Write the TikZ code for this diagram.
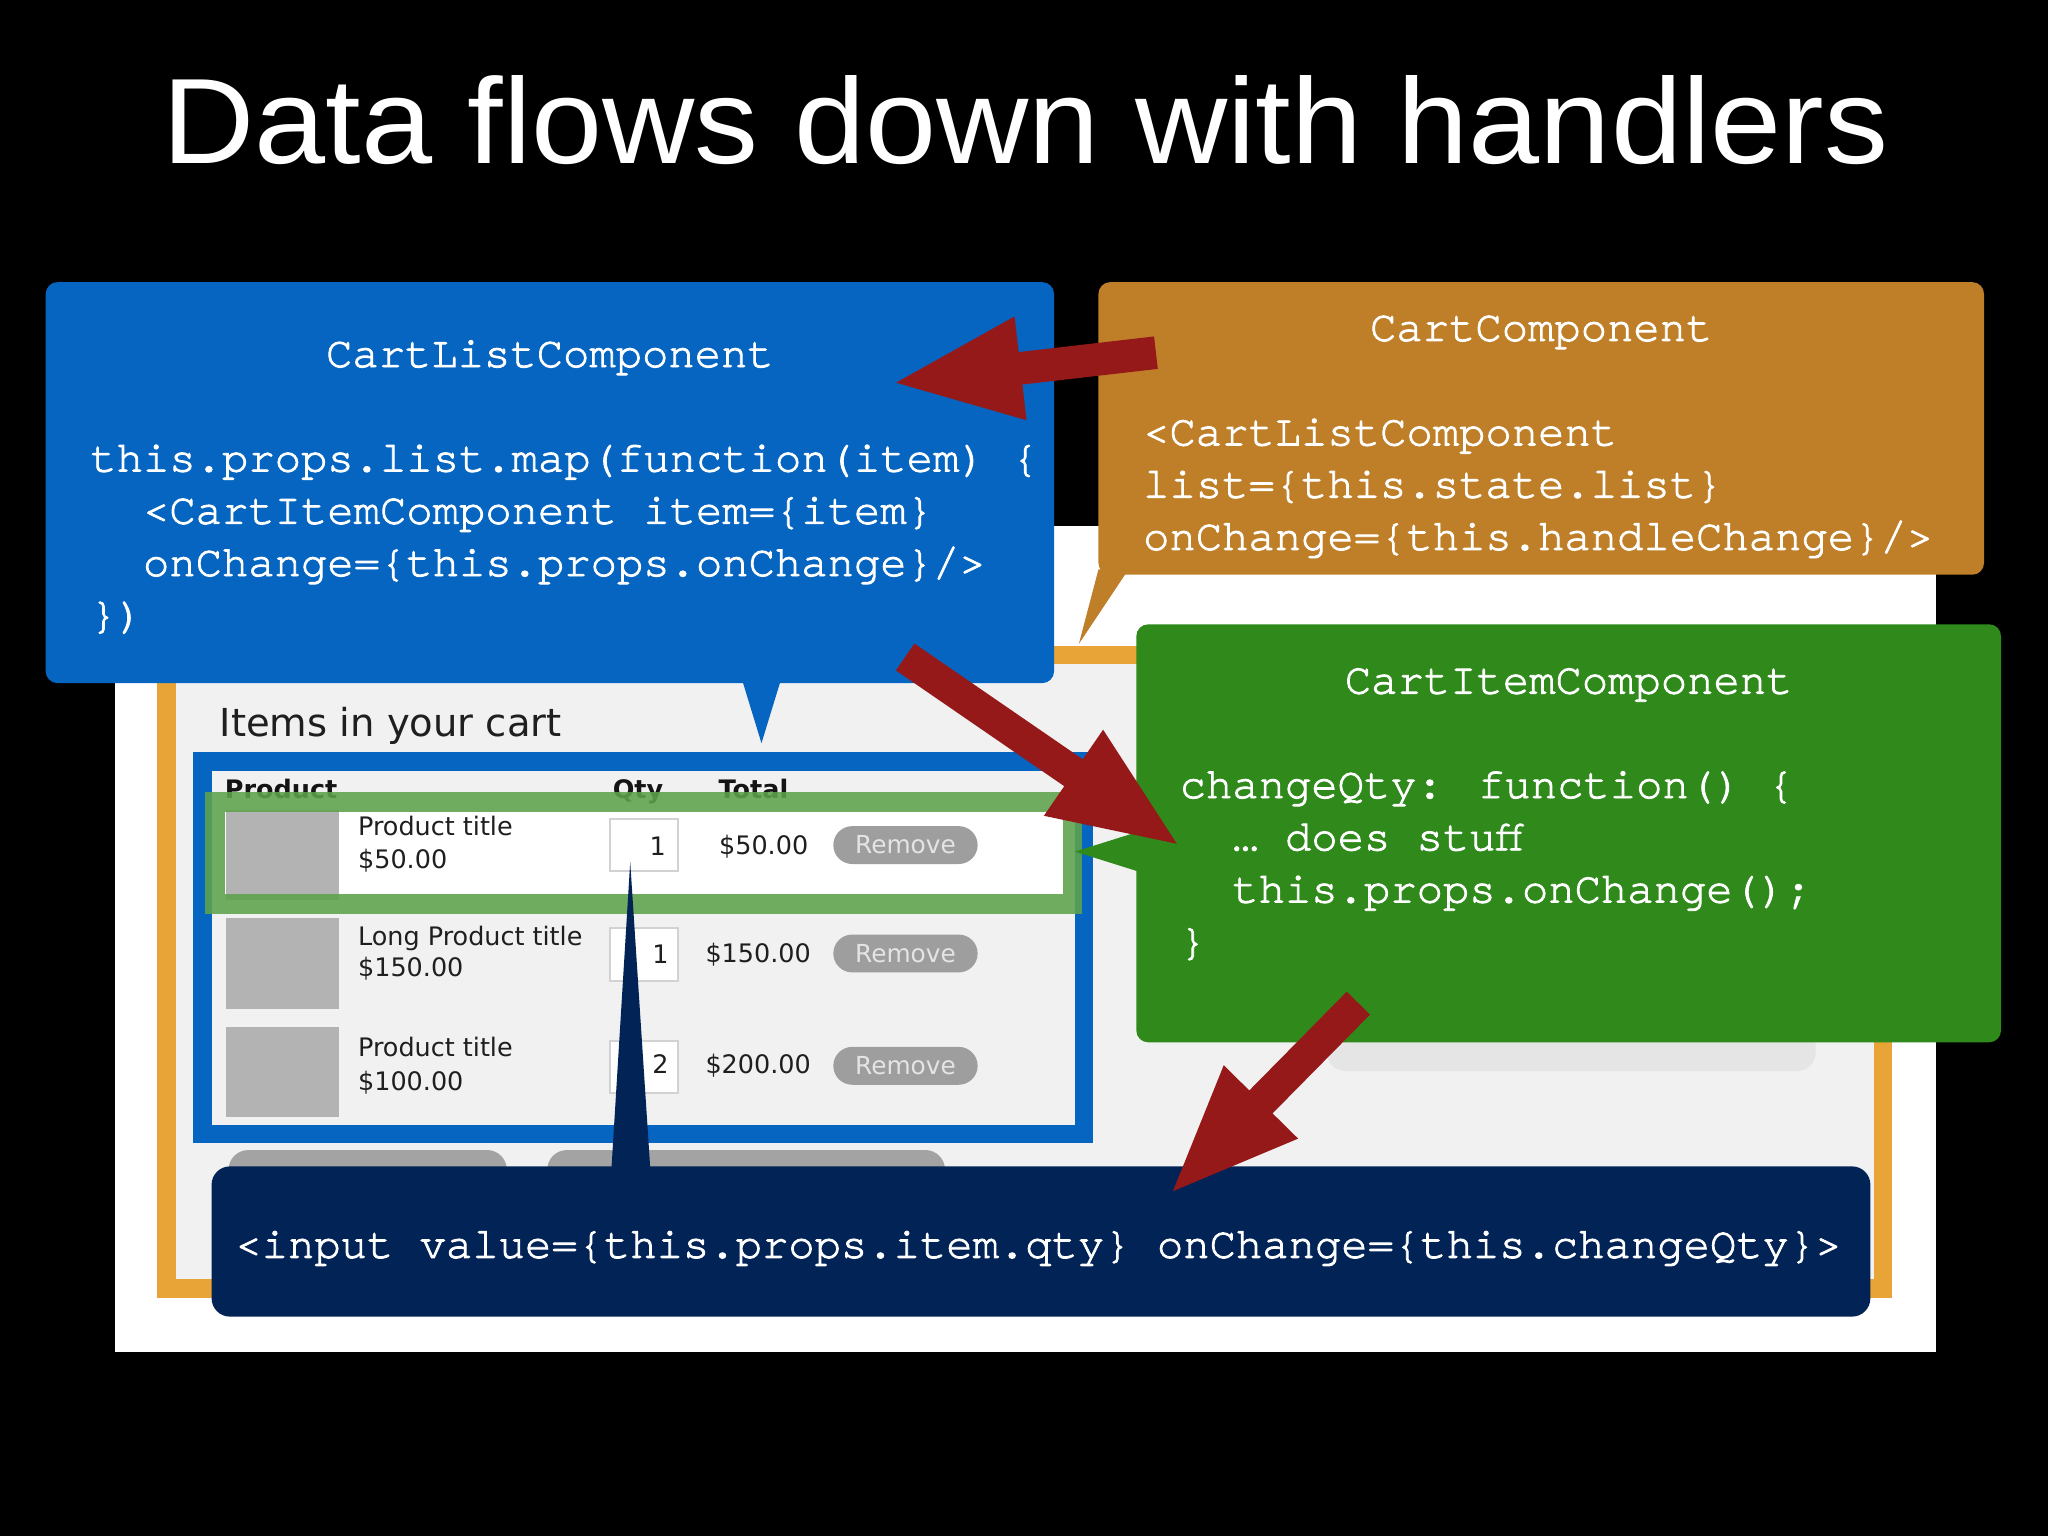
\documentclass[tikz,border=0pt]{standalone}
\usepackage{fontspec}
\usetikzlibrary{calc}
\newfontfamily\titlefont{Liberation Sans}
\newfontfamily\uifont{DejaVu Sans}
\newfontfamily\codefont{texgyrecursor-regular.otf}[FakeBold=2]

\definecolor{cblue}{HTML}{0565C0}
\definecolor{corange}{HTML}{BE7F28}
\definecolor{cgreen}{HTML}{2F8A1B}
\definecolor{cnavy}{HTML}{022356}
\definecolor{cred}{HTML}{951919}
\definecolor{cborder}{HTML}{E8A436}
\definecolor{cbg}{HTML}{F1F1F1}
\definecolor{cthumb}{HTML}{B3B3B3}
\definecolor{cpill}{HTML}{9E9E9E}
\definecolor{cpilltext}{HTML}{E4E4E4}
\definecolor{cframe}{HTML}{5EA34B}
\definecolor{cqty}{HTML}{D2D2D2}

\newcommand\drawredarrow[2]{%
  \path ($(#2)!96pt!(#1)$) coordinate (hb);
  \fill[cred] ($(#1)!12.5pt!90:(#2)$) -- ($(hb)!12.5pt!-90:(#1)$) -- ($(hb)!40pt!-90:(#1)$)
     -- (#2) -- ($(hb)!40pt!90:(#1)$) -- ($(hb)!12.5pt!90:(#1)$) -- ($(#1)!12.5pt!-90:(#2)$) -- cycle;
}

\tikzset{
  callout/.style={fill=#1, draw=none, rounded corners=9pt, inner sep=0pt},
  code/.style={font=\codefont\fontsize{33.6}{40}\selectfont, text=white, inner sep=0pt},
  codeline/.style={code, anchor=base west},
  codetitle/.style={code, anchor=base},
  ui/.style={font=\uifont\fontsize{19.5}{23}\selectfont, inner sep=0pt, anchor=base west, text=black!88},
  uihead/.style={font=\uifont\bfseries\fontsize{19.5}{23}\selectfont, inner sep=0pt, anchor=base west, text=black!92},
  uinum/.style={font=\uifont\fontsize{19.5}{23}\selectfont, inner sep=0pt, anchor=base east, text=black!88},
  thumb/.style={fill=cthumb, draw=none, inner sep=0pt, minimum width=86pt, minimum height=69pt},
  qtybox/.style={fill=white, draw=cqty, line width=1.5pt, inner sep=0pt, minimum width=52pt, minimum height=40pt},
  pill/.style={fill=cpill, draw=none, rounded corners=14.5pt, minimum width=110.5pt, minimum height=29pt, inner sep=0pt,
     font=\uifont\fontsize{19}{23}\selectfont, text=cpilltext},
}

\begin{document}
\begin{tikzpicture}[x=1pt,y=-1pt]
\useasboundingbox (0,0) rectangle (1568,1176);
\fill[black] (0,0) rectangle (1568,1176);

% title
\node[font=\titlefont\fontsize{93}{110}\selectfont, text=white, anchor=base, inner sep=0pt] (title) at (785,125)
  {\scalebox{1.052}[1]{Data flows down with handlers}};

% screenshot
\fill[white] (88,403) rectangle (1482,1035);
\draw[cborder, line width=14pt, fill=cbg] (127.5,501.5) rectangle (1441.5,986.5);
\node[font=\uifont\fontsize{29.5}{35}\selectfont, anchor=base west, inner sep=0pt, text=black!88] (items) at (168,564) {Items in your cart};

% table
\draw[cblue, line width=14pt, fill=cbg] (155,583) rectangle (830,868);
\fill[white] (172,621) rectangle (814,685);
\node[uihead] (hprod) at (172,611) {Product};
\node[uihead] (hqty) at (469,611) {Qty};
\node[uihead] (htot) at (550,611) {Total};

\node[thumb, anchor=north west] (th1) at (173,620) {};
\node[thumb, anchor=north west] (th2) at (173,703) {};
\node[thumb, anchor=north west] (th3) at (173,786) {};

\node[ui] (p1) at (274,640) {Product title};
\node[ui] (pr1) at (274,665) {\$50.00};
\node[ui] (p2) at (274,724) {Long Product title};
\node[ui] (pr2) at (274,748) {\$150.00};
\node[ui] (p3) at (274,809) {Product title};
\node[ui] (pr3) at (274,835) {\$100.00};

\node[qtybox, anchor=north west] (q1) at (466,626) {};
\node[qtybox, anchor=north west] (q2) at (466,710) {};
\node[qtybox, anchor=north west] (q3) at (466,796) {};
\node[uinum] (qn1) at (510,655) {1};
\node[uinum] (qn2) at (512,738) {1};
\node[uinum] (qn3) at (512,822) {2};

\node[uinum] (tot1) at (619,654) {\$50.00};
\node[uinum] (tot2) at (621,737) {\$150.00};
\node[uinum] (tot3) at (621,822) {\$200.00};

\node[pill] (rm1) at (693.25,647) {Remove};
\node[pill] (rm2) at (693.25,730) {Remove};
\node[pill] (rm3) at (693.25,816) {Remove};

% buttons below the table (mostly hidden)
\fill[black!36, rounded corners=15pt] (175,880.5) rectangle (388,930);
\fill[black!36, rounded corners=15pt] (419,880.5) rectangle (723.5,930);
% grey panel behind the green callout
\fill[black!10, rounded corners=14pt] (1016,760) rectangle (1390,820);

% green highlight of row 1
\draw[cframe, opacity=0.88, line width=15pt] (164.5,614) rectangle (821,692);

% CartListComponent callout
\node[callout=cblue, minimum width=772pt, minimum height=307pt] (listbox) at (421,369.5) {};
\fill[cblue] (568,520) -- (598,520) -- (583,569) -- cycle;
\node[codetitle] (t1) at (421,281) {CartListComponent};
\node[codeline] (l11) at (69,361) {this.props.list.map(function(item) \{};
\node[codeline] (l12) at (109.3,401) {<CartItemComponent item=\{item\}};
\node[codeline] (l13) at (109.3,441) {onChange=\{this.props.onChange\}/>};
\node[codeline] (l14) at (69,481) {\})};

% CartComponent callout
\node[callout=corange, minimum width=678pt, minimum height=224pt] (cartbox) at (1180,328) {};
\fill[corange] (841,436) -- (864,436) -- (826,493) -- cycle;
\node[codetitle] (t2) at (1180,261) {CartComponent};
\node[codeline] (l21) at (875,341) {<CartListComponent};
\node[codeline] (l22) at (875,381) {list=\{this.state.list\}};
\node[codeline] (l23) at (875,421) {onChange=\{this.handleChange\}/>};

% CartItemComponent callout
\node[callout=cgreen, minimum width=662pt, minimum height=320pt] (itembox) at (1201,638) {};
\fill[cgreen] (874,636) -- (874,668) -- (823,652) -- cycle;
\node[codetitle] (t3) at (1201,531) {CartItemComponent};
\node[codeline] (l31) at (903,611) {changeQty: function() \{};
\node[codeline] (l32) at (943.3,651) {… does stuff};
\node[codeline] (l33) at (943.3,691) {this.props.onChange();};
\node[codeline] (l34) at (903,731) {\}};

% input callout
\node[callout=cnavy, rounded corners=14pt, minimum width=1270pt, minimum height=115pt] (inputbox) at (797,950.5) {};
\fill[cnavy] (468,897) -- (498,897) -- (482.5,660) -- cycle;
\node[codeline] (l41) at (180,963) {<input value=\{this.props.item.qty\} onChange=\{this.changeQty\}>};

% red arrows
\coordinate (a1s) at (885,270);
\coordinate (a1e) at (686,293);
\coordinate (a2s) at (693,503);
\coordinate (a2e) at (901,646);
\coordinate (a3s) at (1040,768);
\coordinate (a3e) at (898,912);
\drawredarrow{a1s}{a1e}
\drawredarrow{a2s}{a2e}
\drawredarrow{a3s}{a3e}
\end{tikzpicture}
\end{document}
